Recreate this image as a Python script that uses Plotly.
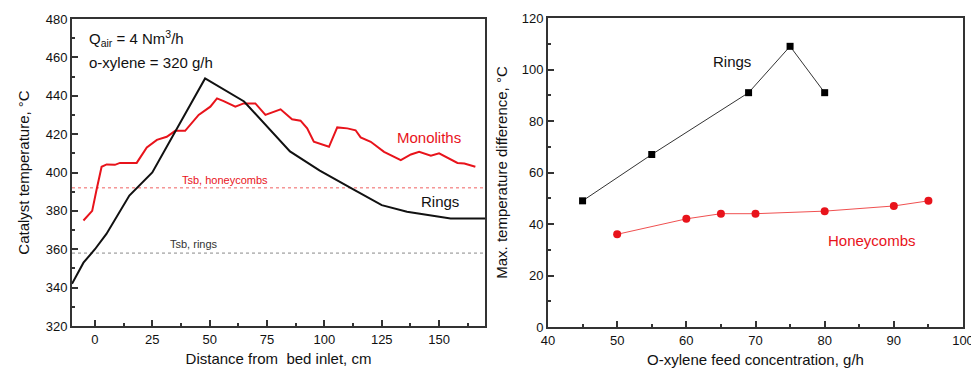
import plotly.graph_objects as go

# ---- Left panel data ----
rings_x = [-10, -5, 0, 5, 15, 25, 48, 65, 85, 98, 113, 125, 136, 155, 170]
rings_y = [342, 353, 360, 368, 388, 400, 449, 437, 411, 401, 391, 383, 379.5, 376, 376]

mono_x = [-5, -1.2, 0.7, 2.9, 5.1, 8.7, 10.9, 18.2, 22.6, 27, 31.3, 35, 39.3, 45.2, 50.3, 53.2,
          56.1, 61.2, 64.8, 69.9, 74.3, 80.9, 85.9, 89.6, 92.5, 95.4, 102, 105.6, 110, 113.6,
          115.8, 120.2, 126, 133.3, 137.7, 141.3, 146.4, 150, 158, 161, 165.8]
mono_y = [375, 380, 391, 403, 404.2, 404, 405, 405, 413, 417, 418.6, 421.7, 421.7, 430, 434.3, 438.6,
          437.2, 434.3, 436, 436, 430, 432.9, 427.7, 427, 423, 416, 413.4, 423.5, 423, 422,
          418.3, 416, 410.8, 406.5, 409.4, 410.8, 408.7, 410, 405, 404.7, 403]

tsb_honeycombs = 392
tsb_rings = 358
left_xrange = [-10, 170]

# ---- Right panel data ----
r_rings_x = [45, 55, 69, 75, 80]
r_rings_y = [49, 67, 91, 109, 91]
r_honey_x = [50, 60, 65, 70, 80, 90, 95]
r_honey_y = [36, 42, 44, 44, 45, 47, 49]

FONT = "Liberation Sans, Arial, sans-serif"
RED = "#e8131b"
AX = "#333333"

fig = go.Figure()

fig.add_trace(go.Scatter(x=left_xrange, y=[tsb_honeycombs] * 2, mode="lines",
                         line=dict(color="#f06060", width=1, dash="dot"), xaxis="x", yaxis="y"))
fig.add_trace(go.Scatter(x=left_xrange, y=[tsb_rings] * 2, mode="lines",
                         line=dict(color="#888888", width=1, dash="dot"), xaxis="x", yaxis="y"))
fig.add_trace(go.Scatter(x=mono_x, y=mono_y, mode="lines",
                         line=dict(color=RED, width=2), xaxis="x", yaxis="y"))
fig.add_trace(go.Scatter(x=rings_x, y=rings_y, mode="lines",
                         line=dict(color="#111111", width=2), xaxis="x", yaxis="y"))

fig.add_trace(go.Scatter(x=r_rings_x, y=r_rings_y, mode="lines+markers",
                         line=dict(color="#333333", width=1),
                         marker=dict(symbol="square", size=7, color="black"),
                         xaxis="x2", yaxis="y2"))
fig.add_trace(go.Scatter(x=r_honey_x, y=r_honey_y, mode="lines+markers",
                         line=dict(color="#f05050", width=1),
                         marker=dict(symbol="circle", size=8, color=RED),
                         xaxis="x2", yaxis="y2"))

axis_common = dict(showgrid=False, zeroline=False, showline=True, linecolor=AX, linewidth=2,
                   mirror=True, ticks="inside", ticklen=6, tickwidth=2, tickcolor=AX,
                   tickfont=dict(family=FONT, size=13, color="#111111"),
                   ticklabeloverflow="allow", automargin=False)

fig.update_layout(
    width=971, height=371,
    margin=dict(l=0, r=0, t=0, b=0),
    paper_bgcolor="white", plot_bgcolor="white",
    showlegend=False,
    font=dict(family=FONT, color="#111111"),
    xaxis=dict(axis_common, domain=[72 / 971, 485 / 971], range=left_xrange,
               tickvals=[0, 25, 50, 75, 100, 125, 150],
               minor=dict(ticks="inside", ticklen=3, tickwidth=2, tickcolor=AX, dtick=12.5, tick0=0),
               title=dict(text="Distance from  bed inlet, cm", font=dict(size=15), standoff=8),
               anchor="y"),
    yaxis=dict(axis_common, domain=[1 - 326 / 371, 1 - 19 / 371], range=[320, 480], dtick=20,
               minor=dict(ticks="inside", ticklen=3, tickwidth=2, tickcolor=AX, dtick=10),
               title=dict(text="Catalyst temperature, °C", font=dict(size=15), standoff=12),
               anchor="x"),
    xaxis2=dict(axis_common, domain=[548 / 971, 963 / 971], range=[40, 100], dtick=10,
                minor=dict(ticks="inside", ticklen=3, tickwidth=2, tickcolor=AX, dtick=5),
                title=dict(text="O-xylene feed concentration, g/h", font=dict(size=15), standoff=8),
                anchor="y2"),
    yaxis2=dict(axis_common, domain=[1 - 327 / 371, 1 - 18 / 371], range=[0, 120], dtick=20,
                minor=dict(ticks="inside", ticklen=3, tickwidth=2, tickcolor=AX, dtick=10),
                title=dict(text="Max. temperature difference, °C", font=dict(size=15), standoff=10),
                anchor="x2"),
)

ann = [
    dict(x=-3.5, y=470, xref="x", yref="y", xanchor="left", yanchor="middle",
         text="Q<sub>air</sub> = 4 Nm<sup>3</sup>/h", font=dict(size=15, color="#111111")),
    dict(x=-3.5, y=457.5, xref="x", yref="y", xanchor="left", yanchor="middle",
         text="o-xylene = 320 g/h", font=dict(size=15, color="#111111")),
    dict(x=56.5, y=396, xref="x", yref="y", text="Tsb, honeycombs", font=dict(size=11, color=RED)),
    dict(x=43, y=362.5, xref="x", yref="y", text="Tsb, rings", font=dict(size=11, color="#333333")),
    dict(x=145.5, y=418, xref="x", yref="y", text="Monoliths", font=dict(size=15, color=RED)),
    dict(x=150.3, y=384.7, xref="x", yref="y", text="Rings", font=dict(size=15, color="#111111")),
    dict(x=66.6, y=103, xref="x2", yref="y2", text="Rings", font=dict(size=15, color="#111111")),
    dict(x=86.9, y=33.5, xref="x2", yref="y2", text="Honeycombs", font=dict(size=15, color=RED)),
]
for a in ann:
    a.setdefault("showarrow", False)
    a["font"]["family"] = FONT
fig.update_layout(annotations=ann)

fig.write_html("out.html")
